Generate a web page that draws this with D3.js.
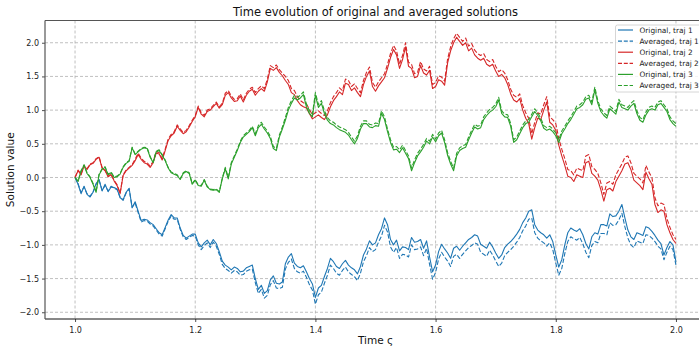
<!DOCTYPE html>
<html>
<head>
<meta charset="utf-8">
<script src="https://cdn.jsdelivr.net/npm/d3@7"></script>
<style>
body { margin: 0; background: #fff; }
svg { display: block; font-family: "DejaVu Sans", sans-serif; }
</style>
</head>
<body>
<svg class="chart"></svg>
<script>
// time grid, step 0.005
var times = d3.range(0, 201).map(function(i) { return 1 + i / 200; });

var orig1 = [0.00, -0.10, -0.24, -0.13, -0.25, -0.29, -0.22, -0.09, -0.03, -0.20,
  -0.10, -0.21, -0.14, -0.15, -0.17, -0.30, -0.33, -0.22, -0.16, -0.45,
  -0.36, -0.50, -0.64, -0.62, -0.63, -0.67, -0.70, -0.76, -0.82, -0.85,
  -0.74, -0.63, -0.55, -0.60, -0.60, -0.75, -0.86, -0.90, -0.87, -0.84,
  -0.84, -0.97, -1.03, -0.97, -0.93, -1.00, -0.92, -0.98, -1.10, -1.24,
  -1.30, -1.33, -1.37, -1.33, -1.35, -1.40, -1.39, -1.34, -1.32, -1.30,
  -1.50, -1.66, -1.60, -1.72, -1.68, -1.52, -1.46, -1.57, -1.58, -1.55,
  -1.28, -1.18, -1.13, -1.27, -1.32, -1.34, -1.31, -1.40, -1.50, -1.58,
  -1.78, -1.64, -1.60, -1.47, -1.35, -1.20, -1.25, -1.32, -1.35, -1.28,
  -1.23, -1.30, -1.34, -1.37, -1.43, -1.32, -1.15, -1.06, -0.94, -1.00,
  -0.97, -0.85, -0.76, -0.60, -0.70, -0.92, -1.00, -0.93, -1.09, -1.03,
  -1.04, -1.07, -0.89, -0.96, -0.95, -0.92, -1.05, -0.94, -1.18, -1.40,
  -1.30, -1.10, -0.99, -1.06, -1.12, -1.20, -1.05, -1.02, -1.08, -1.02,
  -0.97, -0.92, -0.89, -0.85, -0.87, -0.99, -1.02, -1.05, -0.96, -1.03,
  -1.12, -1.20, -1.15, -1.04, -0.99, -0.95, -0.90, -0.84, -0.77, -0.67,
  -0.60, -0.50, -0.48, -0.70, -0.78, -0.82, -0.85, -0.90, -0.85, -0.95,
  -1.15, -1.33, -1.22, -1.00, -0.82, -0.75, -0.78, -0.80, -0.76, -0.85,
  -0.98, -1.06, -0.88, -0.82, -0.84, -0.70, -0.70, -0.72, -0.54, -0.58,
  -0.57, -0.50, -0.40, -0.60, -0.78, -0.88, -0.92, -0.82, -0.84, -0.86,
  -0.73, -0.75, -0.80, -0.86, -0.93, -0.98, -1.15, -1.04, -0.95, -1.00,
  -1.25];

var avg1 = [0.00, -0.09, -0.22, -0.14, -0.24, -0.28, -0.21, -0.10, -0.04, -0.19,
  -0.12, -0.20, -0.13, -0.16, -0.18, -0.29, -0.34, -0.23, -0.17, -0.44,
  -0.38, -0.52, -0.66, -0.64, -0.65, -0.69, -0.72, -0.78, -0.84, -0.87,
  -0.76, -0.65, -0.57, -0.62, -0.62, -0.77, -0.88, -0.92, -0.89, -0.86,
  -0.87, -1.00, -1.07, -1.01, -0.97, -1.04, -0.96, -1.02, -1.14, -1.29,
  -1.35, -1.38, -1.42, -1.38, -1.40, -1.45, -1.44, -1.39, -1.37, -1.36,
  -1.56, -1.72, -1.66, -1.79, -1.75, -1.59, -1.53, -1.64, -1.65, -1.63,
  -1.36, -1.26, -1.21, -1.35, -1.40, -1.42, -1.39, -1.48, -1.59, -1.67,
  -1.88, -1.74, -1.70, -1.57, -1.45, -1.30, -1.35, -1.42, -1.45, -1.38,
  -1.33, -1.40, -1.44, -1.47, -1.53, -1.42, -1.25, -1.16, -1.04, -1.10,
  -1.07, -0.96, -0.87, -0.71, -0.81, -1.03, -1.11, -1.04, -1.20, -1.14,
  -1.15, -1.18, -1.00, -1.07, -1.06, -1.03, -1.16, -1.05, -1.29, -1.51,
  -1.41, -1.21, -1.11, -1.18, -1.24, -1.32, -1.17, -1.14, -1.20, -1.14,
  -1.09, -1.04, -1.01, -0.97, -0.99, -1.11, -1.14, -1.17, -1.08, -1.15,
  -1.24, -1.32, -1.27, -1.16, -1.11, -1.07, -1.02, -0.96, -0.89, -0.79,
  -0.72, -0.62, -0.60, -0.82, -0.90, -0.94, -0.97, -1.02, -0.97, -1.07,
  -1.27, -1.45, -1.35, -1.13, -0.95, -0.88, -0.91, -0.93, -0.89, -0.98,
  -1.11, -1.19, -1.01, -0.95, -0.97, -0.83, -0.83, -0.85, -0.67, -0.71,
  -0.70, -0.63, -0.53, -0.73, -0.90, -1.00, -1.04, -0.94, -0.96, -0.98,
  -0.85, -0.86, -0.90, -0.95, -1.02, -1.06, -1.22, -1.11, -1.02, -1.07,
  -1.30];

var orig2 = [0.00, 0.10, 0.04, 0.17, 0.12, 0.19, 0.21, 0.27, 0.30, 0.14,
  0.10, 0.01, 0.04, -0.05, -0.12, -0.24, 0.03, 0.10, 0.14, 0.18,
  0.25, 0.34, 0.27, 0.22, 0.20, 0.15, 0.22, 0.36, 0.35, 0.26,
  0.40, 0.55, 0.62, 0.66, 0.76, 0.70, 0.65, 0.68, 0.75, 0.83,
  0.90, 1.04, 0.94, 0.90, 0.98, 1.00, 1.05, 1.10, 1.03, 1.08,
  1.22, 1.26, 1.18, 1.13, 1.14, 1.21, 1.12, 1.22, 1.28, 1.31,
  1.22, 1.28, 1.32, 1.28, 1.42, 1.62, 1.59, 1.63, 1.56, 1.51,
  1.44, 1.38, 1.26, 1.23, 1.14, 1.08, 1.05, 1.03, 0.95, 0.87,
  0.90, 0.93, 0.89, 0.86, 0.93, 1.05, 1.14, 1.20, 1.27, 1.23,
  1.40, 1.38, 1.29, 1.33, 1.26, 1.20, 1.38, 1.50, 1.58, 1.35,
  1.28, 1.36, 1.42, 1.48, 1.62, 1.78, 1.90, 1.82, 1.62, 1.75,
  1.94, 1.65, 1.62, 1.48, 1.50, 1.66, 1.55, 1.52, 1.59, 1.32,
  1.35, 1.45, 1.43, 1.37, 1.70, 1.88, 2.00, 2.08, 2.02, 1.96,
  2.00, 1.88, 1.92, 1.82, 1.77, 1.74, 1.77, 1.68, 1.65, 1.68,
  1.58, 1.50, 1.53, 1.48, 1.38, 1.24, 1.15, 1.12, 1.17, 1.00,
  0.88, 0.80, 0.57, 0.74, 0.88, 0.86, 1.00, 1.12, 0.82, 0.78,
  0.70, 0.48, 0.32, 0.18, 0.02, 0.00, -0.06, 0.04, 0.02, 0.00,
  0.22, 0.24, 0.06, 0.02, -0.04, -0.18, -0.35, -0.18, -0.16, -0.20,
  -0.06, 0.02, 0.10, 0.20, 0.22, 0.12, -0.04, -0.08, -0.12, -0.18,
  0.08, -0.02, -0.10, -0.40, -0.52, -0.48, -0.50, -0.70, -0.82, -0.92,
  -0.98];

var avg2 = [0.00, 0.11, 0.05, 0.18, 0.13, 0.20, 0.22, 0.28, 0.31, 0.15,
  0.11, 0.02, 0.05, -0.04, -0.11, -0.23, 0.04, 0.11, 0.15, 0.19,
  0.27, 0.36, 0.29, 0.24, 0.22, 0.17, 0.24, 0.38, 0.37, 0.28,
  0.42, 0.57, 0.64, 0.68, 0.78, 0.72, 0.67, 0.70, 0.77, 0.85,
  0.92, 1.06, 0.96, 0.92, 1.00, 1.02, 1.07, 1.12, 1.05, 1.10,
  1.25, 1.29, 1.21, 1.16, 1.17, 1.24, 1.15, 1.25, 1.31, 1.34,
  1.26, 1.32, 1.36, 1.32, 1.46, 1.66, 1.63, 1.67, 1.60, 1.55,
  1.50, 1.44, 1.32, 1.29, 1.20, 1.14, 1.11, 1.09, 1.01, 0.93,
  0.96, 0.99, 0.95, 0.92, 0.99, 1.11, 1.20, 1.26, 1.33, 1.29,
  1.46, 1.44, 1.35, 1.39, 1.32, 1.26, 1.44, 1.56, 1.64, 1.41,
  1.34, 1.42, 1.48, 1.54, 1.68, 1.84, 1.96, 1.88, 1.68, 1.81,
  2.00, 1.71, 1.68, 1.54, 1.56, 1.72, 1.61, 1.58, 1.65, 1.38,
  1.41, 1.51, 1.49, 1.43, 1.76, 1.94, 2.06, 2.14, 2.08, 2.02,
  2.07, 1.95, 1.99, 1.89, 1.84, 1.81, 1.84, 1.75, 1.72, 1.75,
  1.65, 1.57, 1.60, 1.55, 1.45, 1.31, 1.22, 1.19, 1.24, 1.07,
  0.96, 0.88, 0.65, 0.82, 0.96, 0.94, 1.08, 1.20, 0.90, 0.86,
  0.80, 0.58, 0.42, 0.28, 0.12, 0.10, 0.04, 0.14, 0.12, 0.10,
  0.32, 0.34, 0.16, 0.12, 0.06, -0.08, -0.25, -0.08, -0.06, -0.10,
  0.04, 0.12, 0.20, 0.30, 0.32, 0.22, 0.06, 0.02, -0.02, -0.08,
  0.18, 0.08, 0.00, -0.30, -0.42, -0.38, -0.40, -0.61, -0.74, -0.85,
  -0.92];

var orig3 = [0.00, -0.06, 0.09, 0.18, 0.06, 0.00, -0.10, -0.22, 0.04, 0.12,
  0.15, 0.04, 0.07, 0.00, 0.01, 0.05, 0.15, 0.21, 0.24, 0.44,
  0.34, 0.38, 0.42, 0.44, 0.43, 0.30, 0.22, 0.38, 0.40, 0.33,
  0.25, 0.14, 0.07, 0.05, 0.03, -0.03, 0.06, 0.09, 0.06, -0.10,
  -0.04, -0.12, -0.13, -0.04, -0.14, -0.18, -0.19, -0.18, -0.22, -0.02,
  0.13, -0.02, 0.20, 0.30, 0.40, 0.52, 0.60, 0.64, 0.68, 0.74,
  0.62, 0.74, 0.79, 0.72, 0.66, 0.58, 0.43, 0.40, 0.60, 0.72,
  0.85, 1.00, 1.10, 1.18, 1.15, 1.18, 1.23, 1.05, 0.95, 0.90,
  1.22, 1.04, 1.10, 0.95, 0.85, 0.80, 0.78, 0.74, 0.71, 0.69,
  0.67, 0.63, 0.56, 0.50, 0.58, 0.72, 0.80, 0.80, 0.75, 0.74,
  0.77, 0.76, 0.95, 0.86, 0.68, 0.52, 0.41, 0.42, 0.37, 0.44,
  0.36, 0.28, 0.10, 0.22, 0.32, 0.38, 0.45, 0.54, 0.50, 0.60,
  0.53, 0.62, 0.66, 0.52, 0.33, 0.20, 0.10, 0.32, 0.40, 0.43,
  0.45, 0.56, 0.66, 0.75, 0.72, 0.74, 0.86, 0.92, 0.97, 1.00,
  1.05, 1.15, 0.95, 0.90, 0.89, 0.76, 0.52, 0.56, 0.65, 0.74,
  0.80, 0.82, 0.90, 0.98, 0.92, 0.84, 0.73, 0.70, 0.72, 0.68,
  0.62, 0.52, 0.65, 0.72, 0.80, 0.86, 0.94, 1.02, 1.04, 1.08,
  1.16, 1.18, 1.08, 1.30, 1.10, 0.98, 0.92, 0.88, 1.02, 0.98,
  0.94, 1.12, 1.04, 1.02, 1.00, 1.06, 1.10, 0.95, 0.85, 0.82,
  0.93, 1.00, 1.02, 1.00, 1.08, 1.10, 1.04, 0.98, 0.86, 0.80,
  0.76];

var avg3 = [0.00, -0.05, 0.10, 0.19, 0.07, 0.01, -0.09, -0.21, 0.05, 0.13,
  0.16, 0.05, 0.08, 0.01, 0.02, 0.06, 0.16, 0.22, 0.25, 0.45,
  0.35, 0.39, 0.43, 0.45, 0.44, 0.31, 0.23, 0.39, 0.41, 0.34,
  0.26, 0.15, 0.08, 0.06, 0.04, -0.02, 0.07, 0.10, 0.07, -0.09,
  -0.03, -0.11, -0.12, -0.03, -0.13, -0.17, -0.18, -0.17, -0.21, -0.01,
  0.15, 0.00, 0.22, 0.32, 0.42, 0.54, 0.62, 0.66, 0.70, 0.76,
  0.65, 0.77, 0.82, 0.75, 0.69, 0.61, 0.46, 0.43, 0.63, 0.75,
  0.89, 1.04, 1.14, 1.22, 1.19, 1.22, 1.27, 1.09, 0.99, 0.94,
  1.26, 1.08, 1.14, 0.99, 0.89, 0.84, 0.82, 0.78, 0.75, 0.73,
  0.71, 0.67, 0.60, 0.54, 0.62, 0.76, 0.84, 0.84, 0.79, 0.78,
  0.81, 0.80, 0.99, 0.90, 0.72, 0.56, 0.45, 0.46, 0.41, 0.48,
  0.40, 0.32, 0.14, 0.26, 0.36, 0.42, 0.49, 0.58, 0.54, 0.64,
  0.57, 0.66, 0.70, 0.56, 0.37, 0.24, 0.14, 0.36, 0.44, 0.47,
  0.49, 0.60, 0.70, 0.79, 0.76, 0.78, 0.90, 0.96, 1.01, 1.04,
  1.09, 1.19, 0.99, 0.94, 0.93, 0.80, 0.56, 0.60, 0.69, 0.78,
  0.84, 0.86, 0.94, 1.02, 0.96, 0.88, 0.77, 0.74, 0.76, 0.72,
  0.66, 0.56, 0.69, 0.76, 0.84, 0.90, 0.98, 1.06, 1.08, 1.12,
  1.20, 1.22, 1.12, 1.34, 1.14, 1.02, 0.96, 0.92, 1.06, 1.02,
  0.98, 1.16, 1.08, 1.06, 1.04, 1.10, 1.14, 0.99, 0.89, 0.86,
  0.97, 1.04, 1.06, 1.04, 1.12, 1.14, 1.08, 1.02, 0.90, 0.84,
  0.80];

var xTicks = [1.0, 1.2, 1.4, 1.6, 1.8, 2.0];
var yTicks = [-2.0, -1.5, -1.0, -0.5, 0.0, 0.5, 1.0, 1.5, 2.0];
var labels = ["Original, traj 1", "Averaged, traj 1", "Original, traj 2",
  "Averaged, traj 2", "Original, traj 3", "Averaged, traj 3"];
var colors = ["#1f77b4", "#1f77b4", "#d62728", "#d62728", "#2ca02c", "#2ca02c"];
var dashed = [false, true, false, true, false, true];
var series = [orig1, avg1, orig2, avg2, orig3, avg3];

var svgWidth = 699, svgHeight = 350;
var plotLeft = 45, plotRight = 706, plotTop = 20.5, plotBottom = 319;

var svg = d3.select(".chart")
    .attr("width", svgWidth)
    .attr("height", svgHeight);

var x = d3.scaleLinear().domain([0.95, 2.05]).range([plotLeft, plotRight]);
var y = d3.scaleLinear().domain([-2.1, 2.33]).range([plotBottom, plotTop]);
var fmt = d3.format(".1f");

// grid
svg.append("g").selectAll("line")
    .data(xTicks).enter().append("line")
    .attr("x1", function(d) { return x(d); })
    .attr("x2", function(d) { return x(d); })
    .attr("y1", plotTop).attr("y2", plotBottom)
    .attr("stroke", "#b0b0b0").attr("stroke-width", 0.8)
    .attr("stroke-dasharray", "3,2");

svg.append("g").selectAll("line")
    .data(yTicks).enter().append("line")
    .attr("x1", plotLeft).attr("x2", plotRight)
    .attr("y1", function(d) { return y(d); })
    .attr("y2", function(d) { return y(d); })
    .attr("stroke", "#b0b0b0").attr("stroke-width", 0.8)
    .attr("stroke-dasharray", "3,2");

// lines
var line = d3.line()
    .x(function(d, i) { return x(times[i]); })
    .y(function(d) { return y(d); });

svg.append("g").selectAll("path")
    .data(series).enter().append("path")
    .attr("d", line)
    .attr("fill", "none")
    .attr("stroke", function(d, i) { return colors[i]; })
    .attr("stroke-width", 1.1)
    .attr("stroke-linejoin", "round")
    .attr("stroke-dasharray", function(d, i) { return dashed[i] ? "4.5,2" : null; });

// axes
var xAxis = svg.append("g")
    .attr("transform", "translate(0," + plotBottom + ")")
    .call(d3.axisBottom(x).tickValues(xTicks).tickFormat(fmt).tickSize(3).tickSizeOuter(0));
var yAxis = svg.append("g")
    .attr("transform", "translate(" + plotLeft + ",0)")
    .call(d3.axisLeft(y).tickValues(yTicks).tickFormat(fmt).tickSize(3).tickSizeOuter(0));

[xAxis, yAxis].forEach(function(g) {
    g.select(".domain").remove();
    g.selectAll("text")
        .attr("font-family", "DejaVu Sans")
        .attr("font-size", 8)
        .attr("fill", "#222");
    g.selectAll(".tick line").attr("stroke", "#222").attr("stroke-width", 0.8);
});
xAxis.selectAll("text").attr("dy", "0.95em");

// spines
svg.append("line").attr("x1", plotLeft).attr("x2", plotRight).attr("y1", plotBottom).attr("y2", plotBottom)
    .attr("stroke", "#111").attr("stroke-width", 1);
svg.append("line").attr("x1", plotLeft).attr("x2", plotLeft).attr("y1", plotTop).attr("y2", plotBottom)
    .attr("stroke", "#555").attr("stroke-width", 1.2);
svg.append("line").attr("x1", plotLeft).attr("x2", plotRight).attr("y1", plotTop).attr("y2", plotTop)
    .attr("stroke", "#555").attr("stroke-width", 1.2);

// titles
svg.append("text")
    .attr("x", (plotLeft + plotRight) / 2).attr("y", 16)
    .attr("text-anchor", "middle")
    .attr("font-size", 11.5).attr("fill", "#111")
    .text("Time evolution of original and averaged solutions");

svg.append("text")
    .attr("x", (plotLeft + plotRight) / 2).attr("y", 344)
    .attr("text-anchor", "middle")
    .attr("font-size", 10.5).attr("fill", "#111")
    .text("Time ς");

svg.append("text")
    .attr("transform", "translate(14," + ((plotTop + plotBottom) / 2) + ") rotate(-90)")
    .attr("text-anchor", "middle")
    .attr("font-size", 10.5).attr("fill", "#111")
    .text("Solution value");

// legend
var legend = svg.append("g").attr("transform", "translate(615.5,25)");
legend.append("rect")
    .attr("width", 110).attr("height", 67)
    .attr("rx", 2)
    .attr("fill", "#fff").attr("fill-opacity", 0.8)
    .attr("stroke", "#cccccc").attr("stroke-width", 0.8);

var item = legend.selectAll(".item")
    .data(labels).enter().append("g")
    .attr("transform", function(d, i) { return "translate(0," + (5 + i * 11.1) + ")"; });

item.append("line")
    .attr("x1", 2.5).attr("x2", 17.5)
    .attr("stroke", function(d, i) { return colors[i]; })
    .attr("stroke-width", 1.2)
    .attr("stroke-dasharray", function(d, i) { return dashed[i] ? "4,1.8" : null; });

item.append("text")
    .attr("x", 24).attr("dy", "0.35em")
    .attr("font-size", 7.4).attr("fill", "#222")
    .text(function(d) { return d; });
</script>
</body>
</html>
